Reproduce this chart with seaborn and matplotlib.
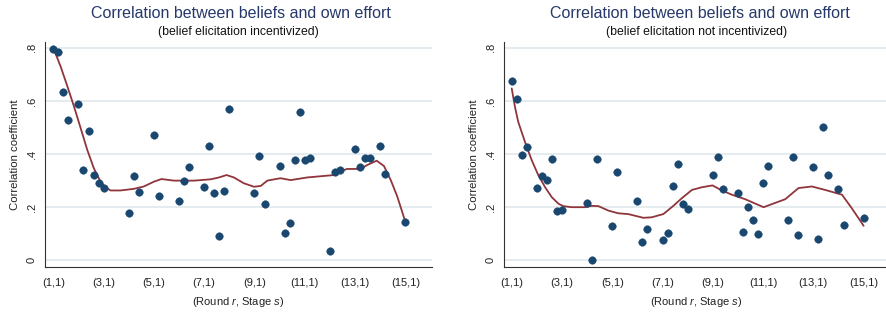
import matplotlib
matplotlib.use("Agg")
import matplotlib.pyplot as plt
import pandas as pd
import seaborn as sns

# ---------------- data ----------------
stage_x = [1.0, 1.2, 1.4, 1.6, 2.0, 2.2, 2.4, 2.6, 2.8, 3.0, 4.0, 4.2, 4.4, 5.0, 5.2,
           6.0, 6.2, 6.4, 7.0, 7.2, 7.4, 7.6, 7.8, 8.0, 9.0, 9.2, 9.4, 10.0, 10.2,
           10.4, 10.6, 10.8, 11.0, 11.2, 12.0, 12.2, 12.4, 13.0, 13.2, 13.4, 13.6,
           14.0, 14.2, 15.0]

inc_y = [0.795, 0.783, 0.632, 0.527, 0.589, 0.341, 0.485, 0.321, 0.290, 0.271,
         0.178, 0.317, 0.256, 0.470, 0.242, 0.223, 0.298, 0.351, 0.275, 0.429,
         0.252, 0.090, 0.262, 0.568, 0.252, 0.391, 0.213, 0.354, 0.104, 0.139,
         0.376, 0.560, 0.376, 0.387, 0.035, 0.331, 0.341, 0.419, 0.350, 0.384,
         0.384, 0.429, 0.324, 0.143]

nonin_y = [0.675, 0.607, 0.396, 0.425, 0.271, 0.319, 0.304, 0.380, 0.187, 0.191,
           0.217, 0.000, 0.381, 0.130, 0.331, 0.223, 0.068, 0.118, 0.075, 0.102,
           0.281, 0.361, 0.211, 0.193, 0.320, 0.389, 0.268, 0.252, 0.108, 0.201,
           0.150, 0.098, 0.290, 0.354, 0.150, 0.389, 0.095, 0.350, 0.082, 0.502,
           0.322, 0.267, 0.134, 0.158]

inc_fit_x = [1.0, 1.29, 1.56, 1.82, 2.08, 2.35, 2.61, 2.88, 3.08, 3.28, 3.67, 4.2,
             4.6, 5.0, 5.3, 5.8, 6.6, 7.26, 7.59, 7.89, 8.18, 8.58, 8.98, 9.25,
             9.51, 9.91, 10.04, 10.44, 11.10, 12.16, 12.43, 12.69, 13.22, 13.49,
             13.86, 14.15, 14.42, 14.68, 15.0]
inc_fit_y = [0.800, 0.730, 0.655, 0.580, 0.500, 0.416, 0.347, 0.296, 0.274, 0.263,
             0.263, 0.269, 0.278, 0.296, 0.306, 0.300, 0.300, 0.305, 0.312, 0.321,
             0.312, 0.290, 0.277, 0.280, 0.300, 0.307, 0.309, 0.302, 0.312, 0.321,
             0.336, 0.344, 0.344, 0.359, 0.375, 0.355, 0.302, 0.240, 0.145]

nonin_fit_x = [1.0, 1.13, 1.26, 1.53, 1.8, 2.06, 2.33, 2.59, 2.86, 3.05, 3.39, 3.92,
               4.18, 4.45, 4.85, 5.24, 5.64, 6.24, 6.57, 7.03, 7.43, 7.77, 8.17,
               8.56, 8.99, 9.36, 9.76, 10.29, 11.02, 11.88, 12.41, 12.94, 13.47,
               14.14, 14.53, 15.0]
nonin_fit_y = [0.647, 0.577, 0.521, 0.445, 0.376, 0.320, 0.275, 0.238, 0.213, 0.204,
               0.200, 0.200, 0.205, 0.204, 0.187, 0.177, 0.174, 0.160, 0.162, 0.174,
               0.205, 0.234, 0.265, 0.275, 0.282, 0.263, 0.247, 0.230, 0.200, 0.230,
               0.272, 0.278, 0.265, 0.247, 0.196, 0.130]

tick_pos = [1, 3, 5, 7, 9, 11, 13, 15]
tick_labels = ["(1,1)", "(3,1)", "(5,1)", "(7,1)", "(9,1)", "(11,1)", "(13,1)", "(15,1)"]
ytick_pos = [0, 0.2, 0.4, 0.6, 0.8]
ytick_labels = ["0", ".2", ".4", ".6", ".8"]

title = "Correlation between beliefs and own effort"
subtitles = ["(belief elicitation incentivized)", "(belief elicitation not incentivized)"]

# ---------------- style ----------------
sns.set_style("white")
plt.rcParams["font.family"] = ["Liberation Sans", "DejaVu Sans"]
plt.rcParams["mathtext.fontset"] = "custom"
plt.rcParams["mathtext.it"] = "Liberation Sans:italic"
plt.rcParams["mathtext.rm"] = "Liberation Sans"

NAVY = "#1a476f"
MAROON = "#90353b"
GRID = "#e3ebee"
TITLE_C = "#27396a"

W, H = 887, 312
fig = plt.figure(figsize=(W / 100, H / 100), dpi=100)

panels = [
    dict(left=45, right=432, y=inc_y, fx=inc_fit_x, fy=inc_fit_y, xlim=(0.67, 16.06),
         tc=240.5, sc=238.5, sub=subtitles[0]),
    dict(left=504.3, right=887, y=nonin_y, fx=nonin_fit_x, fy=nonin_fit_y, xlim=(0.705, 15.93),
         tc=699.5, sc=696.5, sub=subtitles[1]),
]

top_px, bot_px = 41.7, 266.7
for p in panels:
    ax = fig.add_axes([p["left"] / W, 1 - bot_px / H, (p["right"] - p["left"]) / W,
                       (bot_px - top_px) / H])
    for yv in ytick_pos:
        ax.axhline(yv, color=GRID, lw=1.3, zorder=0)
    pts = pd.DataFrame({"x": stage_x, "y": p["y"]})
    fit = pd.DataFrame({"x": p["fx"], "y": p["fy"]})
    sns.lineplot(data=fit, x="x", y="y", ax=ax, color=MAROON, lw=1.3,
                 estimator=None, sort=False, zorder=3)
    sns.scatterplot(data=pts, x="x", y="y", ax=ax, color=NAVY, s=30,
                    edgecolor=NAVY, linewidth=0.3, zorder=4)
    ax.set_xlim(*p["xlim"])
    ax.set_ylim(-0.024, 0.823)
    ax.set_xticks(tick_pos)
    ax.set_xticklabels(tick_labels)
    ax.set_yticks(ytick_pos)
    ax.set_yticklabels(ytick_labels, rotation=90, va="center")
    ax.tick_params(axis="both", direction="out", length=4, width=0.8, color="#333333",
                   labelsize=8, labelcolor="#222222")
    ax.tick_params(axis="x", pad=4)
    ax.tick_params(axis="y", pad=2)
    ax.set_xlabel("(Round $r$, Stage $s$)", fontsize=8, color="#222222", labelpad=5)
    ax.set_ylabel("Correlation coefficient", fontsize=8.2, color="#222222", labelpad=5)
    for side in ["top", "right"]:
        ax.spines[side].set_visible(False)
    for side in ["left", "bottom"]:
        ax.spines[side].set_color("#333333")
        ax.spines[side].set_linewidth(0.8)
    fig.text(p["tc"] / W, 1 - 14 / H, title, ha="center", va="center",
             fontsize=11.5, color=TITLE_C)
    fig.text(p["sc"] / W, 1 - 31.5 / H, p["sub"], ha="center", va="center",
             fontsize=8.8, color="#111111")

fig.savefig("out.png", dpi=100)
